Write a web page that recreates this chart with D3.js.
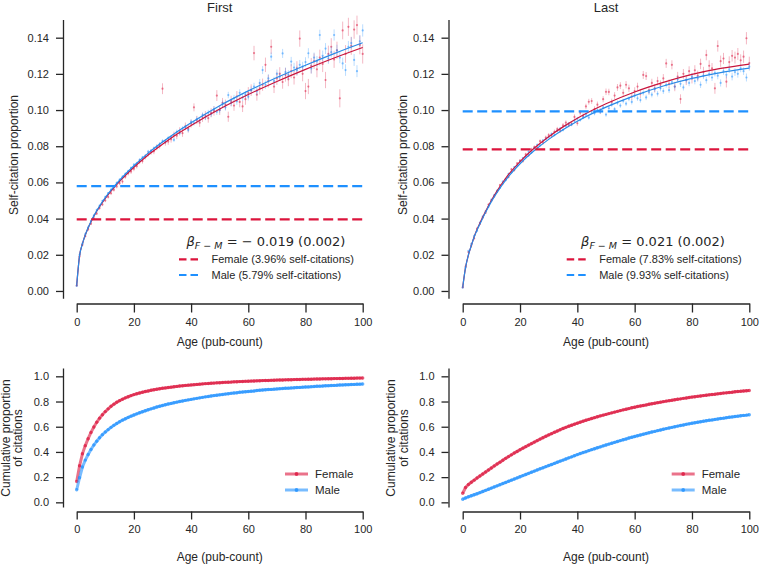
<!DOCTYPE html>
<html><head><meta charset="utf-8">
<script src="https://cdn.jsdelivr.net/npm/d3@7"></script>
<style>
body{margin:0;background:#fff}
svg{display:block}
text{font-family:"Liberation Sans",Arial,sans-serif;fill:#262626}
</style>
</head><body>
<svg id="c" width="760" height="564"></svg>
<script>
// ---------------- DATA ----------------
const ages = d3.range(0, 101);
const xTicks = [0, 20, 40, 60, 80, 100];
const propTicks = [0, 0.02, 0.04, 0.06, 0.08, 0.10, 0.12, 0.14];
const cumTicks = [0, 0.2, 0.4, 0.6, 0.8, 1.0];
const panelTitles = ["First", "Last"];
const betaText = ["= \u2212 0.019 (0.002)", "= 0.021 (0.002)"];
const meanFemale = [0.0396, 0.0783];
const meanMale = [0.0579, 0.0993];
const femaleLegend = ["Female (3.96% self-citations)", "Female (7.83% self-citations)"];
const maleLegend = ["Male (5.79% self-citations)", "Male (9.93% self-citations)"];

const firstFemaleProp = [0.0030,0.0190,0.0255,0.0303,0.0340,0.0372,0.0402,0.0428,0.0458,0.0478,
0.0500,0.0520,0.0540,0.0559,0.0578,0.0596,0.0605,0.0632,0.0650,0.0660,
0.0675,0.0690,0.0715,0.0718,0.0742,0.0758,0.0768,0.0772,0.0794,0.0803,
0.1118,0.0820,0.0826,0.0838,0.0862,0.0858,0.0885,0.0872,0.0910,0.0898,
0.0925,0.1015,0.0945,0.0930,0.0958,0.0970,0.0955,0.0985,0.0995,0.1080,
0.1000,0.1040,0.1030,0.0963,0.1050,0.1025,0.1075,0.1045,0.1020,0.1060,
0.1095,0.1110,0.1315,0.1085,0.1120,0.1140,0.1250,0.1160,0.1350,0.1130,
0.1175,0.1200,0.1155,0.1195,0.1170,0.1215,0.1180,0.1230,0.1395,0.1200,
0.1105,0.1130,0.1245,0.1270,0.1225,0.1290,0.1255,0.1166,0.1310,0.1350,
0.1280,0.1330,0.1065,0.1440,0.1310,0.1460,0.1355,0.1445,0.1470,0.1360,
0.1310];
const firstFemaleErr = [0.0004,0.0006,0.0006,0.0007,0.0007,0.0008,0.0008,0.0008,0.0009,0.0009,
0.0009,0.0010,0.0010,0.0010,0.0011,0.0011,0.0012,0.0012,0.0012,0.0013,
0.0013,0.0013,0.0014,0.0014,0.0015,0.0015,0.0015,0.0016,0.0016,0.0017,
0.0030,0.0017,0.0018,0.0018,0.0019,0.0019,0.0020,0.0020,0.0021,0.0021,
0.0022,0.0022,0.0023,0.0023,0.0024,0.0024,0.0025,0.0025,0.0026,0.0030,
0.0027,0.0027,0.0028,0.0028,0.0029,0.0029,0.0030,0.0030,0.0031,0.0031,
0.0032,0.0032,0.0040,0.0033,0.0034,0.0034,0.0040,0.0035,0.0040,0.0036,
0.0036,0.0037,0.0037,0.0038,0.0038,0.0039,0.0039,0.0040,0.0045,0.0041,
0.0045,0.0042,0.0043,0.0043,0.0044,0.0044,0.0045,0.0045,0.0046,0.0047,
0.0047,0.0048,0.0050,0.0049,0.0049,0.0050,0.0050,0.0051,0.0052,0.0052,
0.0053];
const firstMaleProp = [0.0028,0.0200,0.0262,0.0315,0.0352,0.0388,0.0418,0.0448,0.0472,0.0498,
0.0520,0.0541,0.0560,0.0580,0.0598,0.0615,0.0632,0.0648,0.0662,0.0680,
0.0698,0.0705,0.0725,0.0738,0.0745,0.0770,0.0775,0.0790,0.0798,0.0812,
0.0828,0.0825,0.0845,0.0850,0.0835,0.0880,0.0872,0.0898,0.0905,0.0890,
0.0935,0.0928,0.0950,0.0945,0.0972,0.0960,0.0985,0.0978,0.1005,0.0990,
0.1000,0.1035,0.1015,0.1083,0.1040,0.1065,0.1048,0.1095,0.1070,0.1085,
0.1074,0.1110,0.1130,0.1105,0.1150,0.1221,0.1140,0.1175,0.1295,0.1160,
0.1200,0.1185,0.1313,0.1210,0.1195,0.1268,0.1235,0.1220,0.1250,0.1240,
0.1265,0.1314,0.1230,0.1290,0.1270,0.1415,0.1300,0.1340,0.1285,0.1320,
0.1415,0.1330,0.1290,0.1258,0.1221,0.1350,0.1370,0.1277,0.1215,0.1380,
0.1440];
const firstMaleErr = [0.0003,0.0003,0.0004,0.0004,0.0004,0.0005,0.0005,0.0005,0.0005,0.0006,
0.0006,0.0006,0.0006,0.0007,0.0007,0.0007,0.0007,0.0008,0.0008,0.0008,
0.0008,0.0009,0.0009,0.0009,0.0009,0.0010,0.0010,0.0010,0.0010,0.0011,
0.0011,0.0011,0.0012,0.0012,0.0012,0.0012,0.0013,0.0013,0.0013,0.0014,
0.0014,0.0014,0.0015,0.0015,0.0015,0.0016,0.0016,0.0016,0.0017,0.0017,
0.0017,0.0018,0.0018,0.0018,0.0019,0.0019,0.0019,0.0020,0.0020,0.0020,
0.0021,0.0021,0.0021,0.0022,0.0022,0.0022,0.0023,0.0023,0.0023,0.0024,
0.0024,0.0024,0.0025,0.0025,0.0025,0.0026,0.0026,0.0026,0.0027,0.0027,
0.0027,0.0028,0.0028,0.0028,0.0029,0.0029,0.0029,0.0030,0.0030,0.0030,
0.0031,0.0031,0.0031,0.0032,0.0032,0.0032,0.0033,0.0033,0.0033,0.0034,
0.0034];
const lastFemaleProp = [0.0020,0.0135,0.0215,0.0252,0.0290,0.0345,0.0370,0.0405,0.0432,0.0478,
0.0498,0.0522,0.0548,0.0585,0.0595,0.0618,0.0630,0.0672,0.0668,0.0705,
0.0720,0.0718,0.0755,0.0750,0.0782,0.0795,0.0792,0.0828,0.0820,0.0848,
0.0862,0.0858,0.0880,0.0895,0.0885,0.0915,0.0930,0.0918,0.0925,0.0962,
0.0927,0.0985,0.0968,0.1020,0.1046,0.1050,0.1005,0.1030,0.0995,0.1060,
0.1101,0.1100,0.1045,0.1080,0.1125,0.1135,0.1095,0.1140,0.1120,0.1075,
0.1105,0.1130,0.1090,0.1194,0.1188,0.1110,0.1150,0.1120,0.1160,0.1140,
0.1175,0.1258,0.1145,0.1250,0.1130,0.1185,0.1061,0.1200,0.1165,0.1215,
0.1175,0.1220,0.1190,0.1255,0.1210,0.1304,0.1245,0.1230,0.1120,0.1354,
0.1270,0.1285,0.1157,0.1265,0.1300,0.1290,0.1310,0.1275,0.1295,0.1397,
0.1260];
const lastFemaleErr = [0.0003,0.0004,0.0004,0.0004,0.0005,0.0005,0.0005,0.0005,0.0006,0.0006,
0.0006,0.0006,0.0007,0.0007,0.0007,0.0007,0.0008,0.0008,0.0008,0.0008,
0.0009,0.0009,0.0009,0.0009,0.0010,0.0010,0.0010,0.0010,0.0011,0.0011,
0.0011,0.0012,0.0012,0.0012,0.0012,0.0013,0.0013,0.0013,0.0014,0.0014,
0.0014,0.0015,0.0015,0.0015,0.0016,0.0016,0.0016,0.0017,0.0017,0.0017,
0.0018,0.0018,0.0018,0.0019,0.0019,0.0019,0.0020,0.0020,0.0020,0.0021,
0.0021,0.0021,0.0022,0.0022,0.0022,0.0023,0.0023,0.0023,0.0024,0.0024,
0.0024,0.0025,0.0025,0.0025,0.0026,0.0026,0.0026,0.0027,0.0027,0.0027,
0.0028,0.0028,0.0028,0.0029,0.0029,0.0029,0.0030,0.0030,0.0030,0.0031,
0.0031,0.0031,0.0032,0.0032,0.0032,0.0033,0.0033,0.0033,0.0034,0.0034,
0.0035];
const lastMaleProp = [0.0018,0.0128,0.0222,0.0260,0.0305,0.0332,0.0378,0.0412,0.0440,0.0465,
0.0505,0.0530,0.0555,0.0570,0.0605,0.0612,0.0648,0.0655,0.0685,0.0692,
0.0718,0.0735,0.0742,0.0770,0.0765,0.0790,0.0808,0.0805,0.0832,0.0840,
0.0850,0.0868,0.0862,0.0885,0.0898,0.0890,0.0912,0.0925,0.0920,0.0940,
0.0952,0.0945,0.0960,0.0975,0.0958,0.0990,0.0982,0.1000,0.0990,0.1015,
0.0975,0.1010,0.1030,0.1005,0.1040,0.1025,0.1050,0.1035,0.1062,0.1045,
0.1080,0.1065,0.1055,0.1095,0.1070,0.1100,0.1085,0.1115,0.1090,0.1120,
0.1105,0.1140,0.1110,0.1155,0.1130,0.1170,0.1145,0.1125,0.1165,0.1150,
0.1185,0.1160,0.1175,0.1140,0.1190,0.1165,0.1200,0.1180,0.1205,0.1190,
0.1150,0.1215,0.1195,0.1225,0.1185,0.1210,0.1200,0.1230,0.1215,0.1180,
0.1240];
const lastMaleErr = [0.0002,0.0002,0.0002,0.0003,0.0003,0.0003,0.0003,0.0003,0.0004,0.0004,
0.0004,0.0004,0.0004,0.0005,0.0005,0.0005,0.0005,0.0005,0.0006,0.0006,
0.0006,0.0006,0.0006,0.0006,0.0007,0.0007,0.0007,0.0007,0.0007,0.0008,
0.0008,0.0008,0.0008,0.0008,0.0009,0.0009,0.0009,0.0009,0.0009,0.0010,
0.0010,0.0010,0.0010,0.0010,0.0011,0.0011,0.0011,0.0011,0.0011,0.0012,
0.0012,0.0012,0.0012,0.0012,0.0013,0.0013,0.0013,0.0013,0.0013,0.0014,
0.0014,0.0014,0.0014,0.0014,0.0015,0.0015,0.0015,0.0015,0.0015,0.0016,
0.0016,0.0016,0.0016,0.0016,0.0017,0.0017,0.0017,0.0017,0.0017,0.0018,
0.0018,0.0018,0.0018,0.0018,0.0019,0.0019,0.0019,0.0019,0.0019,0.0020,
0.0020,0.0020,0.0020,0.0020,0.0021,0.0021,0.0021,0.0021,0.0021,0.0022,
0.0022];

const fitAges = [0,1,2,3,4,5,6,8,10,12,15,20,25,30,35,40,50,60,70,80,90,100];
const firstFemaleFit = [0.003,0.0195,0.026,0.0309,0.0348,0.0382,0.0413,0.0466,0.0512,0.0552,0.0606,0.0684,0.0752,0.0811,0.0866,0.0915,0.1006,0.1086,0.1158,0.1225,0.1288,0.1346];
const firstMaleFit = [0.003,0.0195,0.026,0.031,0.0349,0.0384,0.0415,0.0469,0.0516,0.0557,0.0612,0.0692,0.0762,0.0823,0.0879,0.0930,0.1024,0.1106,0.1180,0.1248,0.1312,0.1372];
const lastFemaleFit = [0.002,0.013,0.020,0.025,0.030,0.034,0.0375,0.044,0.050,0.0553,0.0623,0.0715,0.079,0.0853,0.0907,0.0955,0.1035,0.110,0.1153,0.1197,0.1230,0.1254];
const lastMaleFit = [0.002,0.013,0.020,0.025,0.0298,0.0337,0.037,0.0435,0.0494,0.0545,0.0613,0.0703,0.0776,0.0838,0.0891,0.0938,0.1016,0.1080,0.1133,0.1175,0.1207,0.1232];

const cumFirstFemale = [0.165,0.290,0.385,0.450,0.505,0.555,0.598,0.635,0.668,0.695,
0.720,0.742,0.762,0.779,0.794,0.807,0.818,0.829,0.838,0.847,
0.855,0.862,0.868,0.874,0.879,0.884,0.889,0.893,0.897,0.901,
0.905,0.908,0.911,0.914,0.917,0.920,0.923,0.925,0.928,0.930,
0.932,0.934,0.936,0.938,0.940,0.942,0.943,0.945,0.946,0.948,
0.949,0.951,0.952,0.953,0.954,0.956,0.957,0.958,0.959,0.960,
0.961,0.962,0.963,0.964,0.965,0.966,0.967,0.967,0.968,0.969,
0.970,0.971,0.971,0.972,0.973,0.973,0.974,0.975,0.975,0.976,
0.976,0.977,0.977,0.978,0.979,0.979,0.980,0.980,0.981,0.981,
0.982,0.982,0.983,0.983,0.984,0.984,0.985,0.985,0.986,0.986,
0.987];
const cumFirstMale = [0.100,0.195,0.280,0.335,0.380,0.420,0.455,0.485,0.513,0.537,
0.558,0.577,0.595,0.611,0.626,0.640,0.652,0.663,0.674,0.684,
0.693,0.702,0.711,0.719,0.727,0.735,0.742,0.749,0.756,0.762,
0.768,0.774,0.780,0.785,0.790,0.795,0.800,0.804,0.809,0.813,
0.817,0.821,0.825,0.829,0.833,0.837,0.840,0.844,0.847,0.850,
0.853,0.856,0.859,0.862,0.865,0.868,0.870,0.873,0.875,0.878,
0.880,0.882,0.884,0.887,0.889,0.891,0.893,0.895,0.896,0.898,
0.900,0.902,0.903,0.905,0.906,0.908,0.909,0.911,0.912,0.914,
0.915,0.916,0.918,0.919,0.921,0.922,0.923,0.925,0.926,0.927,
0.928,0.929,0.931,0.932,0.933,0.934,0.935,0.936,0.937,0.938,
0.939];
const cumLastFemale = [0.072,0.118,0.141,0.159,0.176,0.193,0.209,0.225,0.241,0.257,
0.273,0.289,0.304,0.319,0.334,0.349,0.363,0.377,0.391,0.404,
0.417,0.430,0.442,0.454,0.466,0.478,0.490,0.502,0.513,0.524,
0.535,0.545,0.556,0.566,0.576,0.586,0.595,0.604,0.612,0.620,
0.628,0.636,0.644,0.651,0.658,0.665,0.672,0.679,0.686,0.692,
0.698,0.704,0.710,0.716,0.722,0.728,0.734,0.739,0.744,0.750,
0.755,0.760,0.764,0.769,0.773,0.778,0.782,0.786,0.791,0.795,
0.799,0.803,0.807,0.810,0.814,0.818,0.821,0.825,0.828,0.832,
0.835,0.838,0.841,0.844,0.847,0.850,0.853,0.856,0.858,0.861,
0.864,0.867,0.869,0.872,0.874,0.877,0.879,0.881,0.884,0.886,
0.888];
const cumLastMale = [0.025,0.035,0.044,0.052,0.060,0.068,0.077,0.086,0.095,0.104,
0.113,0.122,0.131,0.140,0.149,0.158,0.167,0.176,0.185,0.194,
0.203,0.212,0.221,0.230,0.239,0.248,0.257,0.266,0.274,0.283,
0.292,0.300,0.309,0.318,0.327,0.335,0.344,0.353,0.361,0.370,
0.379,0.387,0.395,0.402,0.410,0.418,0.425,0.433,0.440,0.448,
0.455,0.462,0.469,0.476,0.483,0.490,0.497,0.503,0.510,0.516,
0.522,0.528,0.534,0.540,0.546,0.552,0.558,0.563,0.569,0.574,
0.580,0.585,0.590,0.595,0.600,0.605,0.610,0.614,0.619,0.623,
0.627,0.631,0.635,0.639,0.643,0.647,0.651,0.654,0.658,0.661,
0.665,0.668,0.672,0.675,0.678,0.681,0.684,0.687,0.690,0.692,
0.695];

// ---------------- DRAWING ----------------
const FEM = "#dc143c", MAL = "#1e90ff", INK = "#262626";
const svg = d3.select("#c");

const cols = [
  {x0: 76.7, x1: 362.7, spineX: 63, ylab: 14, ylab2: [5.5, 18]},
  {x0: 462.7, x1: 749.3, spineX: 448.5, ylab: 402.5, ylab2: [391, 403.5]}
];
const topData = [
  {fp: firstFemaleProp, fe: firstFemaleErr, mp: firstMaleProp, me: firstMaleErr, ff: firstFemaleFit, mf: firstMaleFit},
  {fp: lastFemaleProp, fe: lastFemaleErr, mp: lastMaleProp, me: lastMaleErr, ff: lastFemaleFit, mf: lastMaleFit}
];
const botData = [
  {f: cumFirstFemale, m: cumFirstMale},
  {f: cumLastFemale, m: cumLastMale}
];

function styleAxis(g) {
  g.selectAll(".domain").attr("stroke", INK).attr("stroke-width", 1.3);
  g.selectAll(".tick line").attr("stroke", INK).attr("stroke-width", 1.3);
  g.selectAll(".tick text").attr("fill", INK).style("font-size", "11px")
    .style("font-family", '"Liberation Sans", Arial, sans-serif');
}

cols.forEach((c, i) => {
  const x = d3.scaleLinear().domain([0, 100]).range([c.x0, c.x1]);

  // ---------- TOP PANEL ----------
  const yT = d3.scaleLinear().domain([-0.004, 0.15]).range([298.2, 19.6]);
  const gT = svg.append("g");
  const d = topData[i];

  const drawScatter = (vals, errs, col) => {
    gT.append("g").selectAll("line").data(ages).join("line")
      .attr("x1", a => x(a)).attr("x2", a => x(a))
      .attr("y1", a => yT(vals[a] - errs[a])).attr("y2", a => yT(vals[a] + errs[a]))
      .attr("stroke", col).attr("stroke-opacity", 0.3).attr("stroke-width", 1);
    gT.append("g").selectAll("circle").data(ages).join("circle")
      .attr("cx", a => x(a)).attr("cy", a => yT(vals[a])).attr("r", 1.1)
      .attr("fill", col).attr("fill-opacity", 0.5);
  };
  drawScatter(d.fp, d.fe, FEM);
  drawScatter(d.mp, d.me, MAL);

  const fitLine = vals => d3.line().x((a, k) => x(a)).y((a, k) => yT(vals[k])).curve(d3.curveMonotoneX)(fitAges);
  gT.append("path").attr("d", fitLine(d.ff)).attr("fill", "none").attr("stroke", "#c8143c").attr("stroke-width", 1.2);
  gT.append("path").attr("d", fitLine(d.mf)).attr("fill", "none").attr("stroke", "#2a8ae6").attr("stroke-width", 1.2);

  gT.append("line").attr("x1", x(0)).attr("x2", x(100)).attr("y1", yT(meanMale[i])).attr("y2", yT(meanMale[i]))
    .attr("stroke", MAL).attr("stroke-width", 2.2).attr("stroke-dasharray", "10,4.5");
  gT.append("line").attr("x1", x(0)).attr("x2", x(100)).attr("y1", yT(meanFemale[i])).attr("y2", yT(meanFemale[i]))
    .attr("stroke", FEM).attr("stroke-width", 2.2).attr("stroke-dasharray", "10,4.5");

  // axes
  const ayT = gT.append("g").attr("transform", `translate(${c.spineX},0)`)
    .call(d3.axisLeft(yT).tickValues(propTicks).tickSize(7).tickSizeOuter(0).tickPadding(7).tickFormat(d3.format(".2f")));
  styleAxis(ayT);
  const axT = gT.append("g").attr("transform", "translate(0,303.5)")
    .call(d3.axisBottom(x).tickValues(xTicks).tickSize(9).tickSizeOuter(0).tickPadding(6));
  styleAxis(axT);

  gT.append("text").attr("x", (c.x0 + c.x1) / 2).attr("y", 12).attr("text-anchor", "middle")
    .style("font-size", "13px").text(panelTitles[i]);
  gT.append("text").attr("transform", `translate(${c.ylab},155) rotate(-90)`).attr("dy", "0.35em")
    .attr("text-anchor", "middle").style("font-size", "12px").text("Self-citation proportion");
  gT.append("text").attr("x", (c.x0 + c.x1) / 2).attr("y", 346).attr("text-anchor", "middle")
    .style("font-size", "12px").text("Age (pub-count)");

  // legend
  const lg = gT.append("g");
  const bx = i === 0 ? 266 : 653;
  const bt = lg.append("text").attr("x", bx).attr("y", 245.5).attr("text-anchor", "middle")
    .style("font-family", '"DejaVu Sans", sans-serif').style("font-size", "13px");
  bt.append("tspan").style("font-style", "italic").text("\u03b2");
  bt.append("tspan").attr("dy", 3.5).style("font-size", "9.5px").style("font-style", "italic").text("F \u2212 M");
  bt.append("tspan").attr("dy", -3.5).text(" " + betaText[i]);

  const lx0 = i === 0 ? 179 : 566.7;
  const entries = [[FEM, femaleLegend[i], 259.3], [MAL, maleLegend[i], 275]];
  entries.forEach(([col, lab, yy]) => {
    lg.append("line").attr("x1", lx0).attr("x2", lx0 + 21).attr("y1", yy).attr("y2", yy)
      .attr("stroke", col).attr("stroke-width", 2.2).attr("stroke-dasharray", "7.5,4");
    lg.append("text").attr("x", lx0 + 32.5).attr("y", yy).attr("dy", "0.35em")
      .style("font-size", "11px").text(lab);
  });

  // ---------- BOTTOM PANEL ----------
  const yB = d3.scaleLinear().domain([-0.037, 1.066]).range([507, 368]);
  const gB = svg.append("g");
  const b = botData[i];
  const cumLine = vals => d3.line().x(a => x(a)).y(a => yB(vals[a]))(ages);
  [[b.f, FEM], [b.m, MAL]].forEach(([vals, col]) => {
    gB.append("path").attr("d", cumLine(vals)).attr("fill", "none").attr("stroke", col)
      .attr("stroke-width", 3).attr("stroke-opacity", 0.6);
    gB.append("g").selectAll("circle").data(ages).join("circle")
      .attr("cx", a => x(a)).attr("cy", a => yB(vals[a])).attr("r", 1.7)
      .attr("fill", col).attr("fill-opacity", 0.7);
  });
  const ayB = gB.append("g").attr("transform", `translate(${c.spineX},0)`)
    .call(d3.axisLeft(yB).tickValues(cumTicks).tickSize(7).tickSizeOuter(0).tickPadding(7).tickFormat(d3.format(".1f")));
  styleAxis(ayB);
  const axB = gB.append("g").attr("transform", "translate(0,511.5)")
    .call(d3.axisBottom(x).tickValues(xTicks).tickSize(8).tickSizeOuter(0).tickPadding(6));
  styleAxis(axB);
  gB.append("text").attr("transform", `translate(${c.ylab2[0]},438) rotate(-90)`).attr("dy", "0.35em")
    .attr("text-anchor", "middle").style("font-size", "12px").text("Cumulative proportion");
  gB.append("text").attr("transform", `translate(${c.ylab2[1]},438) rotate(-90)`).attr("dy", "0.35em")
    .attr("text-anchor", "middle").style("font-size", "12px").text("of citations");
  gB.append("text").attr("x", (c.x0 + c.x1) / 2).attr("y", 561).attr("text-anchor", "middle")
    .style("font-size", "12px").text("Age (pub-count)");

  const blx = i === 0 ? 285 : 671.7;
  [[FEM, "Female", 474], [MAL, "Male", 490]].forEach(([col, lab, yy]) => {
    gB.append("line").attr("x1", blx).attr("x2", blx + 23).attr("y1", yy).attr("y2", yy)
      .attr("stroke", col).attr("stroke-width", 3).attr("stroke-opacity", 0.6);
    gB.append("circle").attr("cx", blx + 11.5).attr("cy", yy).attr("r", 1.9)
      .attr("fill", col).attr("fill-opacity", 0.8);
    gB.append("text").attr("x", blx + 30).attr("y", yy).attr("dy", "0.35em")
      .style("font-size", "11.5px").text(lab);
  });
});
</script>
</body></html>
